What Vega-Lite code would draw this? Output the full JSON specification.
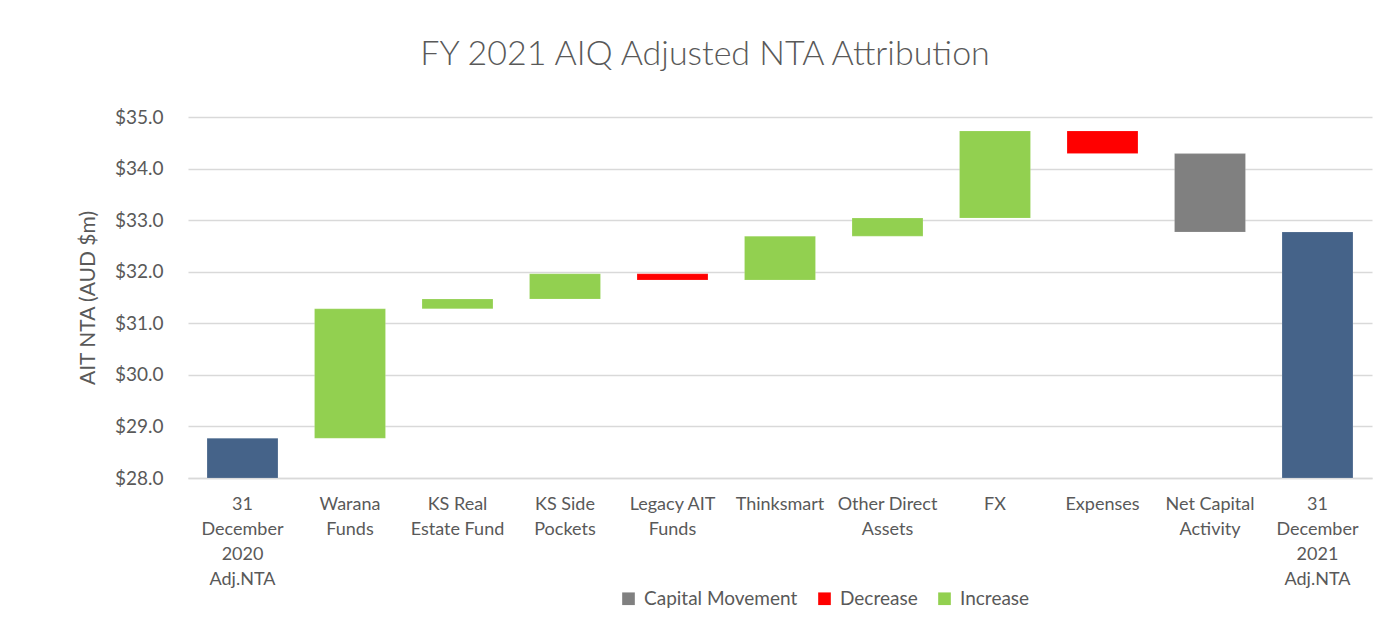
{
  "$schema": "https://vega.github.io/schema/vega-lite/v6.json",
  "autosize": {"type": "none"},
  "width": 1184,
  "height": 361,
  "padding": {"left": 188, "top": 117, "right": 15, "bottom": 166},
  "background": "white",
  "title": {
    "text": "FY 2021 AIQ Adjusted NTA Attribution",
    "fontSize": 34,
    "font": "Lato",
    "fontWeight": 300,
    "color": "#595959",
    "anchor": "middle",
    "dx": -75,
    "offset": 36
  },
  "data": {
    "values": [
      {"item": "31|December|2020|Adj.NTA", "start": 28.0, "end": 28.77, "type": "Total"},
      {"item": "Warana|Funds", "start": 28.77, "end": 31.28, "type": "Increase"},
      {"item": "KS Real|Estate Fund", "start": 31.28, "end": 31.47, "type": "Increase"},
      {"item": "KS Side|Pockets", "start": 31.47, "end": 31.96, "type": "Increase"},
      {"item": "Legacy AIT|Funds", "start": 31.96, "end": 31.84, "type": "Decrease"},
      {"item": "Thinksmart", "start": 31.84, "end": 32.69, "type": "Increase"},
      {"item": "Other Direct|Assets", "start": 32.69, "end": 33.04, "type": "Increase"},
      {"item": "FX", "start": 33.04, "end": 34.73, "type": "Increase"},
      {"item": "Expenses", "start": 34.73, "end": 34.29, "type": "Decrease"},
      {"item": "Net Capital|Activity", "start": 34.29, "end": 32.77, "type": "Capital Movement"},
      {"item": "31|December|2021|Adj.NTA", "start": 28.0, "end": 32.77, "type": "Total"}
    ]
  },
  "mark": {"type": "bar", "stroke": "white", "strokeOpacity": 0.3, "strokeWidth": 0.5},
  "encoding": {
    "x": {
      "field": "item",
      "type": "ordinal",
      "sort": null,
      "scale": {"paddingInner": 0.34, "paddingOuter": 0.177},
      "axis": {
        "title": null,
        "labelAngle": 0,
        "labelExpr": "split(datum.label, '|')",
        "labelFont": "Lato",
        "labelFontSize": 18,
        "labelColor": "#595959",
        "labelLineHeight": 25,
        "labelPadding": 17,
        "labelBaseline": "top",
        "ticks": false,
        "tickSize": 0,
        "domainColor": "#D9D9D9",
        "domainWidth": 1.5
      }
    },
    "y": {
      "field": "start",
      "type": "quantitative",
      "scale": {"domain": [28, 35], "nice": false, "zero": false},
      "axis": {
        "title": "AIT NTA (AUD $m)",
        "titleFont": "Lato",
        "titleFontSize": 21,
        "titleFontWeight": "normal",
        "titleColor": "#595959",
        "titlePadding": 16,
        "values": [28, 29, 30, 31, 32, 33, 34, 35],
        "format": "$.1f",
        "labelFont": "Lato",
        "labelFontSize": 19,
        "labelColor": "#595959",
        "labelPadding": 25,
        "ticks": false,
        "tickSize": 0,
        "domain": false,
        "gridColor": "#D9D9D9",
        "gridWidth": 1.5
      }
    },
    "y2": {"field": "end"},
    "color": {
      "field": "type",
      "type": "nominal",
      "scale": {
        "domain": ["Capital Movement", "Decrease", "Increase", "Total"],
        "range": ["#808080", "#FF0000", "#92D050", "#456389"]
      },
      "legend": {
        "title": null,
        "values": ["Capital Movement", "Decrease", "Increase"],
        "orient": "none",
        "direction": "horizontal",
        "legendX": 431,
        "legendY": 472,
        "symbolType": "square",
        "symbolSize": 160,
        "symbolStrokeWidth": 0,
        "labelFont": "Lato",
        "labelFontSize": 19,
        "labelColor": "#595959",
        "columnPadding": 17,
        "labelOffset": 6
      }
    }
  },
  "config": {"view": {"stroke": null}}
}
